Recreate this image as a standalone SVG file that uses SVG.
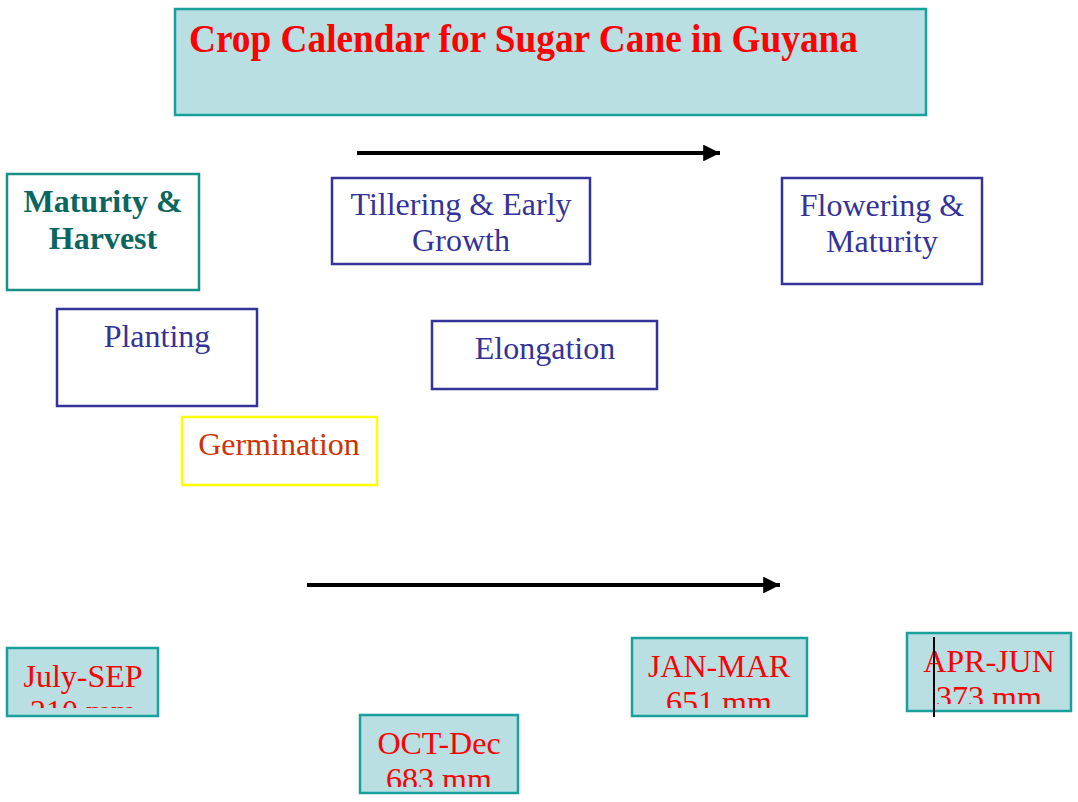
<svg xmlns="http://www.w3.org/2000/svg" width="1078" height="802" viewBox="0 0 1078 802">
<style>
text{font-family:"Liberation Serif","Times New Roman",serif;font-size:32px;text-anchor:middle}
.cyan{fill:#b9dfe3;stroke:#18a09c;stroke-width:2.5}
.blue{fill:#fff;stroke:#333399;stroke-width:2.5}
.bt{fill:#333399}
.red{fill:#ff0000}
</style>
<defs>
<marker id="ah" markerWidth="4.2" markerHeight="4.2" refX="4.2" refY="2.1" orient="auto"><path d="M0,0 L4.2,2.1 L0,4.2 z" fill="#000"/></marker>
<clipPath id="c1"><rect x="7" y="648" width="151" height="60"/></clipPath>
<clipPath id="c2"><rect x="360" y="715" width="158" height="72"/></clipPath>
<clipPath id="c3"><rect x="632" y="638" width="175" height="70"/></clipPath>
<clipPath id="c4"><rect x="907" y="633" width="164" height="71"/></clipPath>
</defs>
<rect width="1078" height="802" fill="#fff"/>
<g id="title">
<rect class="cyan" x="175" y="9" width="751" height="106"/>
<text x="189" y="52" style="text-anchor:start;font-weight:bold;font-size:40px;fill:#ff0000" textLength="669" lengthAdjust="spacingAndGlyphs">Crop Calendar for Sugar Cane in Guyana</text>
</g>
<g id="maturity-harvest">
<rect x="7" y="174" width="192" height="116" fill="#fff" stroke="#1a8f88" stroke-width="2.5"/>
<text x="103" y="212" style="font-weight:bold;fill:#0a6660">Maturity &amp;</text>
<text x="103" y="249" style="font-weight:bold;fill:#0a6660">Harvest</text>
</g>
<g id="tillering">
<rect class="blue" x="332" y="178" width="258" height="86"/>
<text class="bt" x="461" y="215">Tillering &amp; Early</text>
<text class="bt" x="461" y="251">Growth</text>
</g>
<g id="flowering">
<rect class="blue" x="782" y="178" width="200" height="106"/>
<text class="bt" x="882" y="216">Flowering &amp;</text>
<text class="bt" x="882" y="252">Maturity</text>
</g>
<g id="planting">
<rect class="blue" x="57" y="309" width="200" height="97"/>
<text class="bt" x="157" y="347">Planting</text>
</g>
<g id="elongation">
<rect class="blue" x="432" y="321" width="225" height="68"/>
<text class="bt" x="545" y="359">Elongation</text>
</g>
<g id="germination">
<rect x="182" y="417" width="195" height="68" fill="#fff" stroke="#ffff00" stroke-width="2.5"/>
<text x="279" y="455" style="fill:#cc3300">Germination</text>
</g>
<g id="july-sep">
<rect class="cyan" x="7" y="648" width="151" height="68"/>
<g clip-path="url(#c1)"><text class="red" x="83" y="687">July-SEP</text><text class="red" x="83" y="722">210 mm</text></g>
</g>
<g id="oct-dec">
<rect class="cyan" x="360" y="715" width="158" height="78"/>
<g clip-path="url(#c2)"><text class="red" x="439" y="754">OCT-Dec</text><text class="red" x="439" y="790">683 mm</text></g>
</g>
<g id="jan-mar">
<rect class="cyan" x="632" y="638" width="175" height="78"/>
<g clip-path="url(#c3)"><text class="red" x="719" y="677">JAN-MAR</text><text class="red" x="719" y="713">651 mm</text></g>
</g>
<g id="apr-jun">
<rect class="cyan" x="907" y="633" width="164" height="78"/>
<g clip-path="url(#c4)"><text class="red" x="989" y="672">APR-JUN</text><text class="red" x="989" y="708">373 mm</text></g>
</g>
<g id="connectors" stroke="#000" stroke-width="4" fill="none">
<line x1="357" y1="153" x2="720" y2="153" marker-end="url(#ah)"/>
<line x1="307" y1="585" x2="780" y2="585" marker-end="url(#ah)"/>
<line x1="934" y1="637" x2="934" y2="717" stroke-width="2"/>
</g>
</svg>
